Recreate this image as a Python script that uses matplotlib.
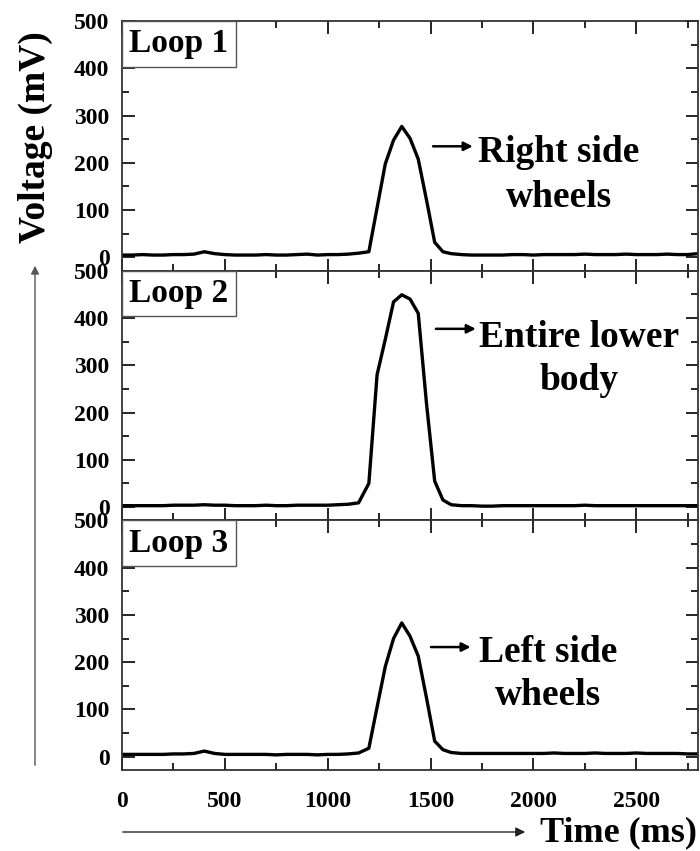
import matplotlib
matplotlib.use("Agg")
import matplotlib.pyplot as plt
from matplotlib.ticker import MultipleLocator
from matplotlib.offsetbox import AnchoredText
from matplotlib.patches import FancyArrowPatch

plt.rcParams['font.family'] = ['Liberation Serif', 'DejaVu Serif']
plt.rcParams['font.weight'] = 'bold'

# ---- data ----
time_left = list(range(0, 1200, 50))
time_peak = list(range(1200, 1640, 40))
time_right = list(range(1650, 2850, 50))
time_ms = time_left + time_peak + time_right

loop1_left = [5, 5, 6, 5, 5, 6, 6, 7, 12, 8, 6, 5, 5, 5, 6, 5, 5, 6, 7, 5, 6, 6, 7, 9]
loop1_peak = [12, 105, 198, 248, 277, 252, 208, 122, 32, 12, 8]
loop1_right = [6, 5, 5, 5, 5, 6, 6, 5, 6, 6, 6, 6, 7, 6, 6, 6, 7, 6, 6, 6, 7, 6, 6, 8]

loop2_left = [3, 3, 3, 3, 3, 4, 4, 4, 5, 4, 4, 3, 3, 3, 4, 3, 3, 4, 4, 4, 4, 5, 6, 9]
loop2_peak = [50, 280, 355, 434, 449, 440, 410, 220, 55, 15, 5]
loop2_right = [3, 3, 2, 2, 3, 3, 3, 3, 3, 3, 3, 3, 4, 3, 3, 3, 3, 3, 3, 3, 3, 3, 3, 3]

loop3_left = [5, 5, 5, 5, 5, 6, 6, 7, 12, 7, 5, 5, 5, 5, 5, 4, 5, 5, 5, 4, 5, 5, 6, 8]
loop3_peak = [18, 105, 191, 250, 283, 255, 213, 125, 33, 15, 9]
loop3_right = [7, 7, 7, 7, 7, 7, 7, 7, 7, 8, 7, 7, 7, 8, 7, 7, 7, 8, 7, 7, 7, 7, 6, 6]

voltages = [loop1_left + loop1_peak + loop1_right,
            loop2_left + loop2_peak + loop2_right,
            loop3_left + loop3_peak + loop3_right]
loop_labels = ["Loop 1", "Loop 2", "Loop 3"]
note_line1 = ["Right side", "Entire lower", "Left side"]
note_line2 = ["wheels", "body", "wheels"]

y_ticks = [0, 100, 200, 300, 400, 500]
x_ticks = [0, 500, 1000, 1500, 2000, 2500]

# annotation placement (style, in data units of each panel)
note_x = [2124, 2220, 2070]
note_y1 = [202, 339, 200]
note_y2 = [107, 248, 109]
arrow_y = [235, 377, 232]
arrow_x0 = [1512, 1526, 1502]
arrow_x1 = [1705, 1720, 1695]

fig = plt.figure(figsize=(7, 8.51), dpi=100)
top, bottom = 1 - 21 / 851, 1 - 770 / 851
left, right = 122 / 700, 698 / 700
fig.subplots_adjust(left=left, right=right, top=top, bottom=bottom, hspace=0)
axes = fig.subplots(3, 1, sharex=True)

for i, ax in enumerate(axes):
    ax.plot(time_ms, voltages[i], color='black', lw=2.4, solid_joinstyle='round')
    ax.set_xlim(0, 2800)
    ax.set_ylim(-28, 500)
    ax.set_yticks(y_ticks)
    ax.xaxis.set_major_locator(MultipleLocator(500))
    ax.xaxis.set_minor_locator(MultipleLocator(250))
    ax.yaxis.set_minor_locator(MultipleLocator(50))
    ax.tick_params(which='both', direction='in', top=True, right=True,
                   labelsize=17, width=1.2, colors='black')
    ax.tick_params(which='major', length=9)
    ax.tick_params(which='minor', length=5)
    ax.tick_params(axis='y', which='major', pad=9)
    ax.tick_params(axis='x', which='major', pad=15)
    for s in ax.spines.values():
        s.set_linewidth(1.3)
        s.set_color('#333333')
    at = AnchoredText(loop_labels[i], loc='upper left', pad=0.22, borderpad=0,
                      prop=dict(size=24, weight='bold', family='Liberation Serif'))
    at.patch.set_edgecolor('#555555')
    at.patch.set_linewidth(1.0)
    at.patch.set_boxstyle('square,pad=0')
    ax.add_artist(at)
    ax.annotate('', xy=(arrow_x1[i], arrow_y[i]), xytext=(arrow_x0[i], arrow_y[i]),
                arrowprops=dict(arrowstyle='-|>', color='black', lw=1.8,
                                mutation_scale=13, shrinkA=0, shrinkB=0))
    ax.text(note_x[i], note_y1[i], note_line1[i], ha='center', va='baseline',
            fontsize=27, fontweight='bold')
    ax.text(note_x[i], note_y2[i], note_line2[i], ha='center', va='baseline',
            fontsize=27, fontweight='bold')

axes[-1].set_xticks(x_ticks)
for ax in axes:
    for lab in ax.get_yticklabels() + ax.get_xticklabels():
        lab.set_fontweight('bold')

fig.text(35 / 700, 1 - 137 / 851, 'Voltage (mV)', rotation=90, ha='center', va='center',
         fontsize=27, fontweight='bold')
fig.add_artist(FancyArrowPatch(
    (35 / 700, 1 - 768 / 851), (35 / 700, 1 - 263 / 851), transform=fig.transFigure,
    arrowstyle='-|>', mutation_scale=12, color='#555555', lw=1.0))
fig.add_artist(FancyArrowPatch(
    (120 / 700, 1 - 832 / 851), (528 / 700, 1 - 832 / 851), transform=fig.transFigure,
    arrowstyle='-|>', mutation_scale=14, color='#222222', lw=1.0))
fig.text(619 / 700, 1 - 833 / 851, 'Time (ms)', ha='center', va='center',
         fontsize=26, fontweight='bold')

fig.savefig('out.png', dpi=100)
